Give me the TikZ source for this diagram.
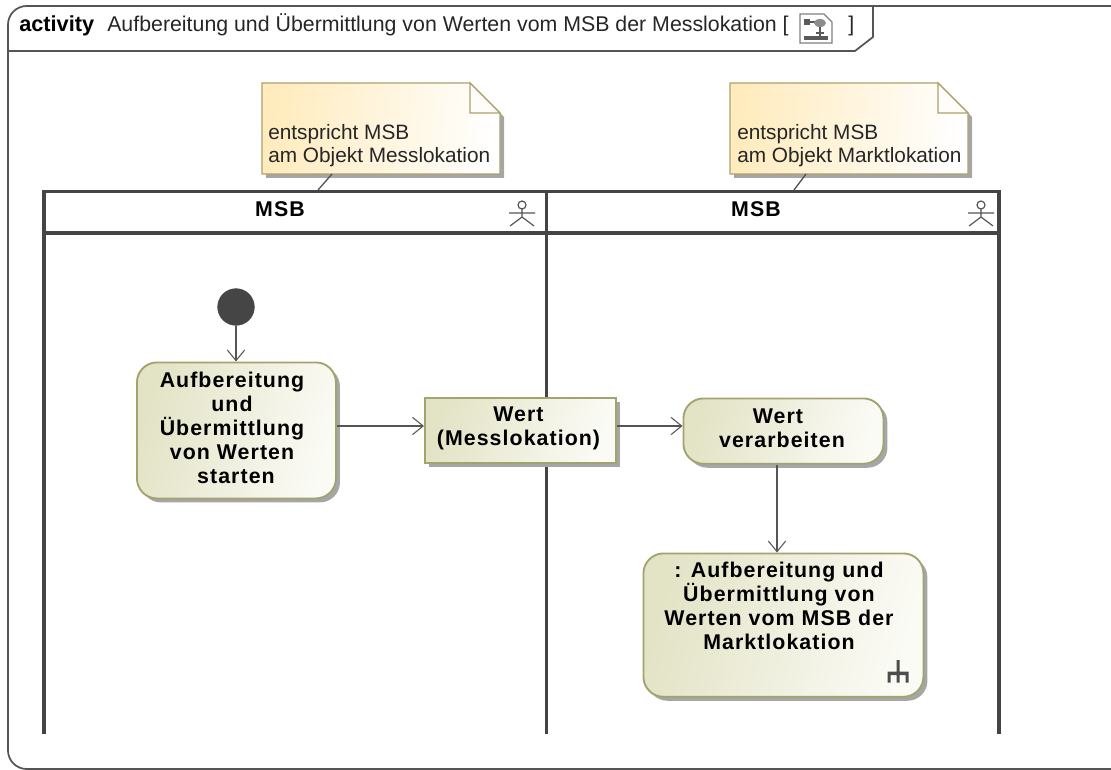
\documentclass[tikz,border=0pt]{standalone}
\usepackage{fontspec}
\setmainfont{Liberation Sans}
\newfontfamily\labfont[LetterSpace=5]{Liberation Sans Bold}
\usetikzlibrary{shadows,calc,arrows.meta}
\definecolor{linegray}{HTML}{555555}
\definecolor{lanegray}{HTML}{444444}
\definecolor{nodeedge}{HTML}{A3A36E}
\definecolor{nodefill}{HTML}{E3E3C6}
\definecolor{nodeend}{HTML}{FBFBF6}
\definecolor{noteedge}{HTML}{AFA06C}
\definecolor{notefill}{HTML}{FFEBBC}
\newcommand{\labsize}{\fontsize{16}{18}\selectfont\labfont}
\newcommand{\txtsize}{\fontsize{15.6}{17.25}\selectfont}
\tikzset{
  x=0.75pt,y=-0.75pt,
  shadowed/.style={drop shadow={shadow xshift=3pt,shadow yshift=-3pt,fill=black!35,opacity=1}},
  actbox/.style={draw=nodeedge,line width=1.4pt,rounded corners=15pt,inner sep=0pt,anchor=north west,
    left color=nodefill,right color=nodeend,shading angle=75,shadowed},
  objbox/.style={actbox,rounded corners=0pt},
  boxlabel/.style={inner sep=0pt,font=\labsize,align=center,text=black},
  flow/.style={draw=linegray,line width=1.1pt,->,>={Straight Barb[length=8pt,width=13pt,line width=0.8pt]}},
  lane/.style={draw=lanegray,line width=2.8pt},
  frameline/.style={draw=linegray,line width=1.3pt},
  notebody/.style={draw=noteedge,line width=0.9pt,left color=notefill,right color=white,shading angle=85,shadowed},
  notefold/.style={draw=noteedge,line width=0.9pt,fill=white!92!notefill},
  notetext/.style={anchor=south west,inner sep=0pt,align=left,font=\txtsize,text=black!85},
  notelink/.style={draw=linegray,line width=1pt},
  lanetitle/.style={inner sep=0pt,font=\labsize,text=black},
}
\newcommand{\actor}[2]{%
  \draw[draw=linegray,line width=0.9pt] (#1,#2-12) circle[radius=4]
    (#1,#2-8) -- (#1,#2) (#1-13,#2-4) -- (#1+13,#2-4)
    (#1-12,#2+9) -- (#1,#2) -- (#1+12,#2+9);}
\begin{document}
\begin{tikzpicture}
\useasboundingbox (0,0) rectangle (1111,770);
\clip (0,0) rectangle (1111,770);
% frame
\draw[frameline,rounded corners=14pt] (8,769) rectangle (1130,6);
\draw[frameline] (8,51) -- (855,51) -- (873,37) -- (873,6);
\node[anchor=base west,inner sep=0pt,font=\fontsize{16.3}{16}\selectfont\bfseries,text=black] (kind) at (19,32) {activity};
\node[anchor=base west,inner sep=0pt,font=\fontsize{16}{16}\selectfont,text=black!85] (title) at (107,32) {Aufbereitung und Übermittlung von Werten vom MSB der Messlokation [};
\node[anchor=base west,inner sep=0pt,font=\fontsize{16}{16}\selectfont,text=black!85] (closeb) at (848,32) {]};
% frame icon
\draw[draw=black!50,line width=0.9pt,fill=white] (800,14) -- (824,14) -- (832,22) -- (832,43) -- (800,43) -- cycle;
\fill[black!65] (804,36) rectangle (828,40);
\fill[black!65] (804,19) rectangle (810,25);
\draw[black!65,line width=1pt] (810,22) -- (815,22);
\fill[black!45] (820,23) ellipse[x radius=6,y radius=4];
\draw[black!65,line width=1pt] (820,27) -- (820,36) (816,33) -- (824,33);
% notes
\foreach \nx/\ww/\nm in {262/238/a,730/238/b}{
  \path[notebody] (\nx,83) -- (\nx+\ww-30,83) -- (\nx+\ww,113) -- (\nx+\ww,174) -- (\nx,174) -- cycle;
  \draw[notefold] (\nx+\ww-30,83) -- (\nx+\ww-30,113) -- (\nx+\ww,113) -- cycle;
}
\node[notetext] (noteA) at (268,167.5) {entspricht MSB\\am Objekt Messlokation};
\node[notetext] (noteB) at (737,167.5) {entspricht MSB\\am Objekt Marktlokation};
\coordinate (noteAfoot) at (332,174); \coordinate (laneAtop) at (318,190);
\coordinate (noteBfoot) at (806,174); \coordinate (laneBtop) at (794,190);
\draw[notelink] (noteAfoot) -- (laneAtop);
\draw[notelink] (noteBfoot) -- (laneBtop);
% swimlanes
\draw[lane] (44,734) -- (44,191.5) -- (999,191.5) -- (999,734);
\draw[lane] (44,233) -- (999,233);
\draw[lane] (546.5,191.5) -- (546.5,734);
\node[lanetitle] (laneA) at (280,209) {MSB};
\node[lanetitle] (laneB) at (756,209) {MSB};
\actor{522}{217}
\actor{981}{217}
% nodes
\node[circle,fill=black!73,draw=black!73,minimum size=27.5pt,inner sep=0pt] (init) at (236,307) {};
\node[actbox,minimum width=149.25pt,minimum height=102pt] (act) at (136,361.5) {};
\node[boxlabel] (actlabel) at (232,428) {Aufbereitung\\und\\Übermittlung\\von Werten\\\hspace*{6pt}starten};
\node[objbox,minimum width=143.25pt,minimum height=49pt] (obj) at (424,397) {};
\node[boxlabel] (objlabel) at (518.5,428) {Wert\\(Messlokation)};
\node[actbox,minimum width=150pt,minimum height=49pt] (proc) at (682.5,397.5) {};
\node[boxlabel] (proclabel) at (782,428) {Wert\hspace*{6pt}\\verarbeiten};
\node[actbox,minimum width=210pt,minimum height=107.5pt] (sub) at (642.5,552.5) {};
\node[boxlabel,anchor=north] (sublabel) at (779,562) {: Aufbereitung und\\Übermittlung von\\Werten vom MSB der\\Marktlokation};
\fill[black!70] (888,671.5) rectangle (908,675) (887.5,671.5) rectangle (890.5,682.5) (896.5,660) rectangle (899.5,682.5) (905.5,671.5) rectangle (908.5,682.5);
% connectors
\coordinate (r1) at (0,426);
\draw[flow] (init) -- (act.north -| init);
\draw[flow] (act.east |- r1) -- (obj.west |- r1);
\draw[flow] (obj.east |- r1) -- (proc.west |- r1);
\coordinate (c1) at (777,0);
\draw[flow] (proc.south -| c1) -- (sub.north -| c1);
\end{tikzpicture}
\end{document}
